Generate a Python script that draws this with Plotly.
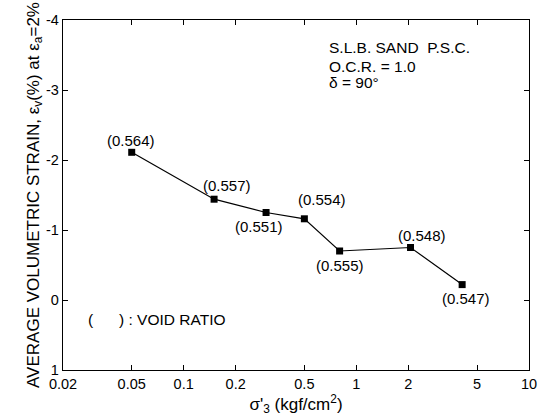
import math
import plotly.graph_objects as go

# Confining pressure sigma'_3 (kgf/cm^2), volumetric strain (%) and void ratio
sigma3 = [0.05, 0.15, 0.3, 0.5, 0.8, 2.06, 4.1]
strain = [-2.11, -1.44, -1.25, -1.16, -0.70, -0.75, -0.22]
void_ratio = ["0.564", "0.557", "0.551", "0.554", "0.555", "0.548", "0.547"]

# label offsets (px) for each void-ratio tag
label_dx = [-1, 13, -7, 18, 0, 11, 4]
label_dy = [12, 14, -14, 19, -14, 12, -14]

x_tickvals = [0.02, 0.05, 0.1, 0.2, 0.5, 1, 2, 5, 10]
x_ticktext = ["0.02", "0.05", "0.1", "0.2", "0.5", "1", "2", "5", "10"]
y_tickvals = [-4, -3, -2, -1, 0, 1]
y_ticktext = ["-4", "-3", "-2", "-1", "0", "1"]

FONT = "Liberation Sans, Arial, sans-serif"

fig = go.Figure()
fig.add_trace(go.Scatter(
    x=sigma3, y=strain, mode="lines+markers",
    line=dict(color="black", width=1.2),
    marker=dict(symbol="square", size=7, color="black"),
    showlegend=False,
))

for xv, yv, t, dx, dy in zip(sigma3, strain, void_ratio, label_dx, label_dy):
    fig.add_annotation(
        x=math.log10(xv), y=yv, text=f"({t})", showarrow=False,
        xshift=dx, yshift=dy, font=dict(family=FONT, size=15, color="black"),
    )

# test conditions, top right
for line, ypos in zip(["S.L.B. SAND  P.S.C.", "O.C.R. = 1.0", "δ = 90°"],
                      [0.922, 0.868, 0.821]):
    fig.add_annotation(
        xref="paper", yref="paper", x=0.566, y=ypos, xanchor="left", yanchor="middle",
        showarrow=False, text=line, font=dict(family=FONT, size=15.5, color="black"),
    )

fig.add_annotation(
    xref="paper", yref="paper", x=0.05, y=0.143, xanchor="left", yanchor="middle",
    showarrow=False, text="(      ) : VOID RATIO",
    font=dict(family=FONT, size=15.5, color="black"),
)

fig.update_xaxes(
    type="log", range=[math.log10(0.02), 1],
    tickvals=x_tickvals, ticktext=x_ticktext,
    ticks="inside", ticklen=5, tickcolor="black", mirror="ticks",
    showline=True, linecolor="black", linewidth=1.3, showgrid=False, zeroline=False,
    tickfont=dict(family=FONT, size=14.5, color="black"),
    title=dict(text="σ'<sub>3</sub> (kgf/cm<sup>2</sup>)", standoff=4,
               font=dict(family=FONT, size=17, color="black")),
)
fig.update_yaxes(
    range=[1, -4], tickvals=y_tickvals, ticktext=y_ticktext,
    ticks="inside", ticklen=5, tickcolor="black", mirror="ticks",
    showline=True, linecolor="black", linewidth=1.3, showgrid=False, zeroline=False,
    tickfont=dict(family=FONT, size=14.5, color="black"),
    title=dict(text="AVERAGE VOLUMETRIC STRAIN, ε<sub>v</sub>(%) at ε<sub>a</sub>=2%",
               standoff=2, font=dict(family=FONT, size=17, color="black")),
)

fig.update_layout(
    width=551, height=419,
    margin=dict(l=63, r=22, t=16, b=46),
    paper_bgcolor="white", plot_bgcolor="white",
)

fig.write_html("out.html")
